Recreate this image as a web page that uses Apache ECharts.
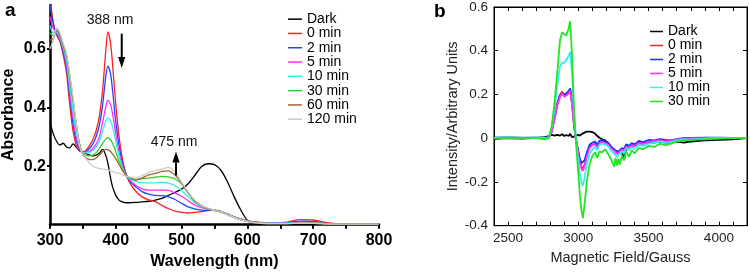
<!DOCTYPE html>
<html><head><meta charset="utf-8">
<script src="https://cdn.jsdelivr.net/npm/echarts@6/dist/echarts.min.js"></script>
<style>html,body{margin:0;padding:0;background:#fff}#c{width:750px;height:275px}</style>
</head><body><div id="c"></div>
<script>
// ---------- Panel a: UV-vis absorbance ----------
const wavelength = [300,305,310,315,320,325,330,335,340,345,350,355,360,365,370,375,380,385,388,392,395,400,405,410,415,420,430,440,450,460,470,480,490,500,510,520,530,540,550,560,570,580,590,600,610,620,640,660,680,700,720,740,760,800];
const absDark = [0.35,0.31,0.285,0.272,0.278,0.265,0.262,0.276,0.265,0.252,0.248,0.243,0.238,0.235,0.237,0.245,0.257,0.235,0.21,0.16,0.13,0.1,0.084,0.078,0.075,0.075,0.076,0.078,0.08,0.084,0.09,0.1,0.11,0.122,0.14,0.168,0.198,0.208,0.205,0.185,0.145,0.095,0.05,0.015,0.006,0.004,0.003,0.002,0.002,0.002,0.001,0.001,0.001,0.001];
const abs0 = [0.78,0.69,0.648,0.625,0.58,0.52,0.41,0.32,0.27,0.252,0.248,0.255,0.27,0.29,0.32,0.37,0.46,0.6,0.658,0.62,0.55,0.41,0.3,0.225,0.178,0.148,0.115,0.095,0.085,0.079,0.066,0.055,0.046,0.042,0.04,0.042,0.045,0.048,0.05,0.045,0.036,0.027,0.02,0.014,0.01,0.008,0.007,0.009,0.017,0.016,0.007,0.003,0.003,0.002];
const abs2 = [0.75,0.685,0.652,0.63,0.59,0.535,0.44,0.345,0.285,0.257,0.248,0.25,0.26,0.275,0.3,0.34,0.41,0.51,0.541,0.515,0.46,0.35,0.27,0.21,0.175,0.152,0.13,0.113,0.104,0.1,0.099,0.095,0.086,0.073,0.061,0.054,0.05,0.049,0.049,0.045,0.036,0.027,0.019,0.013,0.009,0.007,0.006,0.007,0.012,0.011,0.004,0.002,0.002,0.002];
const abs5 = [0.71,0.67,0.655,0.635,0.6,0.55,0.46,0.365,0.3,0.262,0.247,0.248,0.25,0.26,0.275,0.3,0.35,0.405,0.425,0.41,0.38,0.31,0.245,0.2,0.172,0.155,0.135,0.122,0.118,0.118,0.118,0.117,0.108,0.097,0.082,0.067,0.058,0.052,0.049,0.044,0.035,0.026,0.018,0.012,0.008,0.006,0.005,0.005,0.007,0.007,0.003,0.002,0.002,0.002];
const abs10 = [0.68,0.655,0.658,0.64,0.605,0.56,0.475,0.385,0.315,0.268,0.245,0.245,0.247,0.253,0.265,0.285,0.32,0.355,0.365,0.355,0.335,0.285,0.235,0.195,0.17,0.158,0.148,0.143,0.143,0.143,0.144,0.142,0.133,0.117,0.095,0.076,0.062,0.054,0.049,0.044,0.035,0.026,0.018,0.012,0.008,0.006,0.005,0.005,0.006,0.006,0.003,0.002,0.002,0.002];
const abs30 = [0.655,0.645,0.664,0.645,0.61,0.575,0.5,0.42,0.335,0.275,0.242,0.237,0.235,0.238,0.245,0.26,0.278,0.293,0.297,0.29,0.278,0.25,0.215,0.19,0.17,0.16,0.155,0.157,0.16,0.162,0.165,0.163,0.156,0.14,0.108,0.08,0.065,0.055,0.049,0.043,0.034,0.025,0.017,0.011,0.007,0.005,0.004,0.004,0.005,0.005,0.003,0.002,0.002,0.002];
const abs60 = [0.63,0.635,0.664,0.648,0.615,0.58,0.51,0.43,0.345,0.275,0.238,0.228,0.222,0.222,0.228,0.238,0.25,0.257,0.256,0.25,0.242,0.225,0.205,0.185,0.17,0.162,0.152,0.16,0.17,0.175,0.182,0.184,0.17,0.142,0.11,0.082,0.066,0.056,0.049,0.043,0.034,0.025,0.017,0.011,0.007,0.005,0.004,0.004,0.005,0.005,0.003,0.002,0.002,0.002];
const abs120 = [0.6,0.63,0.672,0.655,0.62,0.585,0.515,0.435,0.345,0.27,0.238,0.225,0.21,0.2,0.195,0.192,0.19,0.188,0.186,0.184,0.182,0.178,0.175,0.17,0.166,0.163,0.16,0.168,0.178,0.185,0.19,0.196,0.18,0.145,0.112,0.084,0.067,0.057,0.049,0.043,0.034,0.025,0.017,0.011,0.007,0.005,0.004,0.004,0.005,0.005,0.003,0.002,0.002,0.002];
const namesA = ['Dark','0 min','2 min','5 min','10 min','30 min','60 min','120 min'];
const colorsA = ['#000000','#ff1f1f','#2442ff','#ff2bff','#2ff0f0','#2ccf2c','#a5652c','#cccccc'];
const wlTicks = [300,400,500,600,700,800];
const absTicks = [0.2,0.4,0.6];

// ---------- Panel b: EPR ----------
const field = [2400,2500,2600,2700,2760,2790,2810,2830,2850,2870,2885,2900,2915,2930,2942,2955,2968,2980,2995,3010,3022,3032,3045,3060,3080,3100,3120,3135,3150,3170,3190,3210,3235,3255,3265,3275,3285,3295,3310,3325,3340,3360,3380,3400,3430,3460,3500,3540,3580,3620,3660,3700,3750,3800,3900,4000,4100,4200];
const eprDark = [-0.003,0.0,-0.002,0.002,0.005,0.01,0.015,0.012,0.015,0.012,0.018,0.01,0.015,0.01,0.02,0.005,0.012,0.01,0.015,0.012,0.018,0.022,0.025,0.03,0.03,0.028,0.02,0.01,0.002,-0.005,-0.01,-0.02,-0.04,-0.055,-0.06,-0.06,-0.065,-0.06,-0.06,-0.1,-0.05,-0.04,-0.035,-0.035,-0.025,-0.025,-0.02,-0.02,-0.015,-0.02,-0.02,-0.015,-0.02,-0.015,-0.01,-0.008,-0.005,0.0];
const epr0 = [0.002,0.003,0.002,0.001,0.0,0.003,0.03,0.09,0.16,0.2,0.213,0.195,0.198,0.21,0.222,0.16,0.07,0.01,-0.05,-0.1,-0.13,-0.14,-0.12,-0.08,-0.04,-0.03,-0.025,-0.04,-0.02,-0.015,-0.02,-0.025,-0.045,-0.055,-0.06,-0.07,-0.072,-0.06,-0.05,-0.055,-0.035,-0.04,-0.03,-0.035,-0.02,-0.025,-0.015,-0.012,-0.008,-0.012,-0.01,-0.005,-0.002,0.0,0.001,0.002,0.001,0.001];
const epr2 = [0.003,0.004,0.002,0.003,0.001,0.004,0.03,0.088,0.155,0.195,0.205,0.2,0.205,0.215,0.228,0.165,0.07,0.01,-0.045,-0.09,-0.115,-0.12,-0.1,-0.065,-0.03,-0.02,-0.015,-0.03,-0.012,-0.008,-0.015,-0.02,-0.04,-0.05,-0.055,-0.065,-0.068,-0.055,-0.045,-0.05,-0.028,-0.035,-0.022,-0.028,-0.012,-0.018,-0.008,-0.01,-0.004,-0.008,-0.01,-0.004,0.0,0.002,0.003,0.003,0.002,0.001];
const epr5 = [0.002,0.002,0.003,0.001,-0.001,0.002,0.028,0.085,0.15,0.19,0.205,0.19,0.195,0.205,0.218,0.155,0.065,0.005,-0.055,-0.11,-0.14,-0.15,-0.13,-0.085,-0.045,-0.032,-0.028,-0.045,-0.022,-0.018,-0.022,-0.028,-0.048,-0.058,-0.062,-0.072,-0.075,-0.062,-0.052,-0.058,-0.038,-0.042,-0.032,-0.036,-0.022,-0.026,-0.016,-0.013,-0.01,-0.014,-0.012,-0.006,-0.003,-0.001,0.0,0.001,0.001,0.0];
const epr10 = [0.002,0.005,0.003,0.004,0.0,0.005,0.05,0.13,0.24,0.33,0.345,0.345,0.36,0.375,0.395,0.3,0.13,0.02,-0.08,-0.16,-0.2,-0.218,-0.18,-0.12,-0.07,-0.05,-0.04,-0.055,-0.03,-0.025,-0.03,-0.035,-0.06,-0.07,-0.075,-0.085,-0.09,-0.075,-0.06,-0.07,-0.045,-0.055,-0.04,-0.05,-0.03,-0.035,-0.025,-0.02,-0.015,-0.02,-0.018,-0.01,-0.005,-0.005,-0.002,0.002,0.001,0.0];
const epr30 = [0.0,0.003,0.002,0.002,-0.005,0.0,0.05,0.16,0.3,0.45,0.485,0.475,0.47,0.5,0.535,0.38,0.15,0.01,-0.12,-0.25,-0.33,-0.365,-0.3,-0.2,-0.12,-0.08,-0.065,-0.09,-0.06,-0.065,-0.05,-0.07,-0.1,-0.13,-0.09,-0.125,-0.095,-0.12,-0.08,-0.1,-0.06,-0.085,-0.055,-0.07,-0.045,-0.05,-0.035,-0.04,-0.025,-0.032,-0.025,-0.015,-0.01,-0.008,-0.005,-0.002,0.0,0.0];
const namesB = ['Dark','0 min','2 min','5 min','10 min','30 min'];
const colorsB = ['#000000','#ff2020','#1a30ff','#ff33ff','#33eef8','#22e622'];
const fieldTicks = [2500,3000,3500,4000];
const intensityTicks = [-0.4,-0.2,0,0.2,0.4,0.6];

// annotation arrows, anchored in data space: [tail, head]
const arrowA = [[409, 0.652], [409, 0.535]];
const arrowB = [[491.5, 0.168], [491.5, 0.25]];

const FONT = '"Liberation Sans", Arial, Helvetica, sans-serif';
function pairs(xs, ys) { return xs.map((x, i) => [x, ys[i]]); }

const seriesA = [absDark, abs0, abs2, abs5, abs10, abs30, abs60, abs120].map((arr, i) => ({
  type: 'line', name: namesA[i], xAxisIndex: 0, yAxisIndex: 0,
  data: pairs(wavelength, arr), showSymbol: false, smooth: 0.3,
  lineStyle: { width: 1.3, color: colorsA[i] }, itemStyle: { color: colorsA[i] },
  emphasis: { disabled: true }, z: 2
}));

const seriesB = [eprDark, epr0, epr2, epr5, epr10, epr30].map((arr, i) => ({
  type: 'line', name: namesB[i], xAxisIndex: 1, yAxisIndex: 1,
  data: pairs(field, arr), showSymbol: false, smooth: false,
  lineStyle: { width: 1.8, color: colorsB[i] }, itemStyle: { color: colorsB[i] },
  emphasis: { disabled: true }, z: 2
}));

const chart = echarts.init(document.getElementById('c'), null, { renderer: 'canvas' });
const blk = '#000';
const near = (v, list) => list.some(t => Math.abs(v - t) < 1e-6);

chart.setOption({
  animation: false,
  backgroundColor: '#fff',
  textStyle: { fontFamily: FONT },
  grid: [
    { left: 49, top: 5, width: 330, height: 219.7, containLabel: false },
    { left: 494, top: 7, width: 253.3, height: 218.7, containLabel: false, show: true, borderColor: blk, borderWidth: 1 }
  ],
  legend: [
    {
      left: 288, top: 12, orient: 'vertical', padding: 0, itemGap: 0, itemWidth: 14, itemHeight: 1.5,
      itemTextGap: 6, icon: 'rect', selectedMode: false,
      textStyle: { fontFamily: FONT, fontSize: 14, color: blk, lineHeight: 14.3 },
      data: namesA.map((n, i) => ({ name: n, itemStyle: { color: colorsA[i] } }))
    },
    {
      left: 650, top: 24.5, orient: 'vertical', padding: 0, itemGap: 0, itemWidth: 13, itemHeight: 1.5,
      itemTextGap: 6, icon: 'rect', selectedMode: false,
      textStyle: { fontFamily: FONT, fontSize: 14, color: blk, lineHeight: 13.4 },
      data: namesB.map((n, i) => ({ name: n, itemStyle: { color: colorsB[i] } }))
    }
  ],
  xAxis: [
    {
      type: 'value', gridIndex: 0, min: 300, max: 800, interval: 50,
      axisLine: { show: true, onZero: false, lineStyle: { color: blk, width: 2.5 } },
      axisTick: { show: true, inside: false, length: 4, lineStyle: { color: blk, width: 2 } },
      axisLabel: { margin: 8, color: blk, fontFamily: FONT, fontSize: 16, fontWeight: 'bold',
        formatter: v => near(v, wlTicks) ? String(Math.round(v)) : '' },
      splitLine: { show: false },
      name: 'Wavelength (nm)', nameLocation: 'middle', nameGap: 22,
      nameTextStyle: { color: blk, fontFamily: FONT, fontSize: 16, fontWeight: 'bold' }
    },
    {
      type: 'value', gridIndex: 1, min: 2400, max: 4200, interval: 100, position: 'bottom',
      axisLine: { show: true, onZero: false, lineStyle: { color: blk, width: 1 } },
      axisTick: { show: true, inside: true, length: 4, lineStyle: { color: blk, width: 1 } },
      axisLabel: { margin: 6, color: '#222', fontFamily: FONT, fontSize: 13.5,
        formatter: v => near(v, fieldTicks) ? String(Math.round(v)) : '' },
      splitLine: { show: false },
      name: 'Magnetic Field/Gauss', nameLocation: 'middle', nameGap: 22,
      nameTextStyle: { color: '#222', fontFamily: FONT, fontSize: 14.5 }
    },
    {
      type: 'value', gridIndex: 1, min: 2400, max: 4200, interval: 100, position: 'top',
      axisLine: { show: true, onZero: false, lineStyle: { color: blk, width: 1 } },
      axisTick: { show: true, inside: true, length: 4, lineStyle: { color: blk, width: 1 } },
      axisLabel: { show: false }, splitLine: { show: false }
    }
  ],
  yAxis: [
    {
      type: 'value', gridIndex: 0, min: 0, max: 0.75,
      axisLine: { show: true, onZero: false, lineStyle: { color: blk, width: 2.5 } },
      axisTick: { show: true, inside: false, length: 3, customValues: absTicks, lineStyle: { color: blk, width: 2 } },
      axisLabel: { margin: 4, color: blk, fontFamily: FONT, fontSize: 16, fontWeight: 'bold',
        customValues: absTicks, formatter: v => v.toFixed(1) },
      splitLine: { show: false },
      name: 'Absorbance', nameLocation: 'middle', nameGap: 33,
      nameTextStyle: { color: blk, fontFamily: FONT, fontSize: 16, fontWeight: 'bold' }
    },
    {
      type: 'value', gridIndex: 1, min: -0.4, max: 0.6, interval: 0.2, position: 'left',
      axisLine: { show: true, onZero: false, lineStyle: { color: blk, width: 1 } },
      axisTick: { show: true, inside: true, length: 4, lineStyle: { color: blk, width: 1 } },
      axisLabel: { margin: 6, color: '#222', fontFamily: FONT, fontSize: 13.5,
        formatter: v => Math.abs(v) < 1e-9 ? '0' : v.toFixed(1) },
      splitLine: { show: false },
      name: 'Intensity/Arbitrary Units', nameLocation: 'middle', nameGap: 31,
      nameTextStyle: { color: '#222', fontFamily: FONT, fontSize: 14.5 }
    },
    {
      type: 'value', gridIndex: 1, min: -0.4, max: 0.6, interval: 0.2, position: 'right',
      axisLine: { show: true, onZero: false, lineStyle: { color: blk, width: 1 } },
      axisTick: { show: true, inside: true, length: 4, lineStyle: { color: blk, width: 1 } },
      axisLabel: { show: false }, splitLine: { show: false }
    }
  ],
  series: seriesA.concat(seriesB)
});

// Arrows + text annotations, positioned through the axes' own scales
function arrowGraphics(a) {
  const p0 = chart.convertToPixel({ gridIndex: 0 }, a[0]);
  const p1 = chart.convertToPixel({ gridIndex: 0 }, a[1]);
  const dir = Math.sign(p1[1] - p0[1]);
  const headLen = 11, headHalf = 3.6;
  const base = p1[1] - dir * headLen;
  return [
    { type: 'line', shape: { x1: p0[0], y1: p0[1], x2: p0[0], y2: base }, style: { stroke: blk, lineWidth: 2 }, z: 50 },
    { type: 'polygon', shape: { points: [[p1[0], p1[1]], [p1[0] - headHalf, base], [p1[0] + headHalf, base]] }, style: { fill: blk }, z: 50 }
  ];
}
chart.setOption({
  graphic: [
    { type: 'text', x: 5, y: 10.4, style: { text: 'a', font: 'bold 19px ' + FONT, fill: blk, verticalAlign: 'middle' } },
    { type: 'text', x: 434, y: 11.7, style: { text: 'b', font: 'bold 19px ' + FONT, fill: blk, verticalAlign: 'middle' } },
    { type: 'text', x: 110, y: 20, style: { text: '388 nm', font: '14px ' + FONT, fill: '#111', align: 'center', verticalAlign: 'middle' } },
    { type: 'text', x: 174, y: 141.8, style: { text: '475 nm', font: '14px ' + FONT, fill: '#111', align: 'center', verticalAlign: 'middle' } }
  ].concat(arrowGraphics(arrowA), arrowGraphics(arrowB))
});
</script></body></html>
